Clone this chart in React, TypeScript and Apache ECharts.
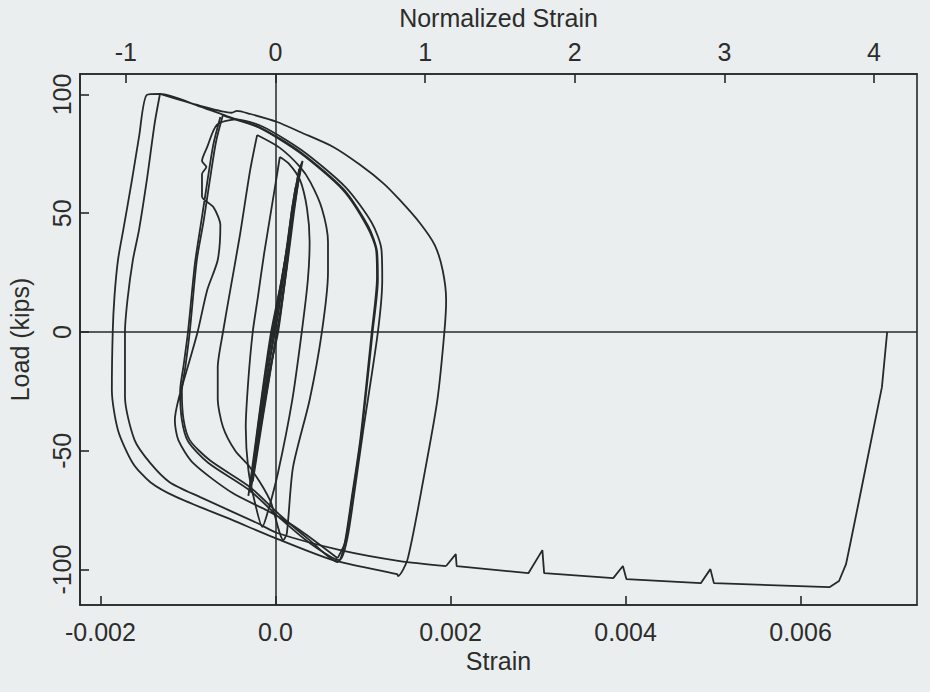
import React, { useEffect, useRef } from 'react';
import * as echarts from 'echarts';

// ---- axis extents ----
const STRAIN_MIN = -0.002234;
const STRAIN_MAX = 0.007331;
const LOAD_MIN = -114.9;
const LOAD_MAX = 108.6;
const YIELD_STRAIN = 0.00171; // normalizing strain for the top axis

// ---- tick values / labels ----
const strainTicks = [-0.002, 0, 0.002, 0.004, 0.006];
const strainTickLabels = ['-0.002', '0.0', '0.002', '0.004', '0.006'];
const normTicks = [-1, 0, 1, 2, 3, 4];
const normTickLabels = ['-1', '0', '1', '2', '3', '4'];
const loadTicks = [-100, -50, 0, 50, 100];
const loadTickLabels = ['-100', '-50', '0', '50', '100'];

// ---- load–strain history, [strain, load (kips)] ----
const elasticA = [
  [-0.00029, -67.5], [-0.00018, -40], [-0.00006, -15], [0.00003, 0], [0.00012, 25], [0.0002, 50],
  [0.00025, 64], [0.00027, 68.5], [0.00024, 62], [0.00016, 42], [0.00006, 20], [-0.00004, 0],
  [-0.00013, -22], [-0.00022, -48], [-0.00029, -67.5],
];
const elasticB = [
  [-0.00031, -69], [-0.0002, -42], [-0.00008, -15], [0.00002, 5], [0.00011, 28], [0.00019, 52],
  [0.00027, 68], [0.00031, 72], [0.00026, 63], [0.00018, 45], [0.00007, 22], [-0.00005, 0],
  [-0.00015, -25], [-0.00024, -50], [-0.00031, -69],
];
const elasticC = [
  [-0.00026, -63], [-0.00014, -35], [-0.00002, -8], [0.00006, 10], [0.00014, 32], [0.00021, 55],
  [0.00023, 61], [0.00019, 52], [0.0001, 28], [0.00001, 6], [-0.00008, -15], [-0.00018, -40],
  [-0.00026, -63],
];
const elasticD = [
  [-0.00028, -66], [-0.00016, -38], [-0.00004, -12], [0.00004, 4], [0.00013, 27], [0.00021, 50],
  [0.00026, 63], [0.00029, 70], [0.00025, 62], [0.00017, 43], [0.00005, 16], [-0.00003, 0],
  [-0.00014, -24], [-0.00023, -49], [-0.00028, -66],
];
const cycleC = [
  [0.00005, 73.7], [-0.00001, 60], [-0.00013, 33], [-0.0002, 15], [-0.00026, 0], [-0.00031, -20],
  [-0.00034, -40], [-0.00031, -58], [-0.00024, -71], [-0.00015, -82], [-0.00009, -76],
  [0.00003, -59], [0.00019, -29], [0.0003, 0], [0.00037, 22], [0.00039, 38], [0.00036, 52],
  [0.00028, 64], [0.00015, 71], [0.00005, 73.7],
];
const cycleD = [
  [-0.00021, 82.9], [-0.00029, 68], [-0.00041, 40], [-0.00052, 17], [-0.0006, 0], [-0.00066, -15],
  [-0.00066, -28], [-0.0006, -40], [-0.00046, -50], [-0.00029, -57], [-0.00006, -71],
  [0.00009, -87.6], [0.00013, -84.6], [0.0002, -57], [0.00039, -28.6], [0.00053, 0], [0.0006, 25],
  [0.0006, 38], [0.00053, 52], [0.0004, 63], [0.00028, 69.5], [0.00005, 77.5], [-0.00021, 82.9],
];
const cycleE1 = [
  [-0.0006, 91.4], [-0.00068, 80], [-0.00075, 64], [-0.00082, 47], [-0.0009, 30], [-0.00098, 0],
  [-0.00103, -14.7], [-0.00107, -25], [-0.00105, -37], [-0.00098, -45.5], [-0.00075, -54],
  [-0.00029, -65.3], [0.00005, -77], [0.00039, -87.6], [0.00071, -96.8], [0.00079, -89],
  [0.00087, -70], [0.00097, -45], [0.0011, 0], [0.00116, 23], [0.00115, 34.5], [0.00105, 44.2],
  [0.00077, 59.8], [0.00028, 75.4], [-0.00018, 85.9], [-0.00055, 90.5], [-0.0006, 91.4],
];
const cycleE2 = [
  [-0.00063, 90.5], [-0.00071, 79], [-0.00078, 63], [-0.00085, 46], [-0.00092, 29], [-0.001, 0],
  [-0.00105, -14], [-0.00109, -25], [-0.00107, -37], [-0.001, -46], [-0.00077, -55],
  [-0.0003, -66.5], [0.00004, -78], [0.00038, -88.5], [0.00073, -96], [0.00082, -87],
  [0.0009, -68], [0.001, -42], [0.00117, 0], [0.00122, 22], [0.00121, 35], [0.0011, 46],
  [0.0008, 61], [0.0003, 76.5], [-0.00015, 86.5], [-0.00045, 89.5], [-0.00067, 87.2],
  [-0.00078, 77.9], [-0.00084, 72], [-0.00079, 69.5], [-0.00084, 66.5], [-0.00084, 57],
  [-0.00071, 52.6], [-0.00063, 45], [-0.00066, 30.3], [-0.00078, 17.7], [-0.00089, 0],
  [-0.00098, -11.8], [-0.00111, -28.6], [-0.00115, -37.1], [-0.00111, -45.5], [-0.00094, -55.2],
  [-0.00049, -67.8], [-0.00006, -75.8], [0.00028, -83.4], [0.00071, -95.2],
];
const cycleA = [
  [0.00071, -95.2], [0.0008, -88], [0.00088, -69], [0.00098, -44], [0.00111, 0], [0.00117, 22],
  [0.00116, 34], [0.00106, 44.5], [0.00078, 60], [0.00029, 75.6], [-0.00017, 86], [-0.00055, 90.8],
  [-0.00086, 94.9], [-0.00132, 100.2], [-0.00147, 99.8], [-0.00156, 82], [-0.00164, 64],
  [-0.00174, 42.9], [-0.0018, 30.3], [-0.00184, 15], [-0.00186, 0], [-0.00187, -24.4],
  [-0.0018, -41.3], [-0.00163, -55.2], [-0.00143, -63.2], [-0.00113, -69.5], [-0.00049, -79.2],
  [-0.00003, -86.3], [0.00066, -96], [0.00139, -101.9], [0.0014, -102.7], [0.00151, -95.6],
  [0.00171, -58.1], [0.00185, -28.6], [0.00193, 0], [0.00195, 13.5], [0.00191, 26.1],
  [0.00182, 36.6], [0.00165, 45.9], [0.00142, 55.6], [0.00123, 62.7], [0.00097, 70.3],
  [0.00066, 77.9], [0.00028, 84.2], [0.00002, 88.4], [-0.00029, 91.8], [-0.00044, 93.1],
  [-0.0005, 92.3], [-0.00086, 95.2], [-0.00132, 100.2],
];
const finalDescent = [
  [-0.00132, 100.2], [-0.00138, 88], [-0.00147, 64], [-0.00156, 42.9], [-0.00163, 30.3],
  [-0.00169, 14], [-0.00172, 0], [-0.00172, -27.4], [-0.00161, -45.5], [-0.00143, -55.2],
  [-0.00121, -63.2], [-0.00086, -69.5], [-0.00021, -80.4], [0.00002, -84.6], [0.00074, -91.8],
  [0.00142, -96.4], [0.00195, -98.5],
];
const finalRun = [
  [0.00195, -98.5], [0.00206, -93.5], [0.00207, -98.5], [0.00289, -101.5], [0.00305, -91.8],
  [0.00307, -101.5], [0.00386, -103.6], [0.00397, -98.5], [0.00401, -104], [0.00486, -105.7],
  [0.00497, -99.8], [0.00501, -105.7], [0.00633, -107.4], [0.00644, -104.8], [0.00652, -97.7],
  [0.00657, -88.8], [0.00667, -70.7], [0.00693, -23.2], [0.00699, 0],
];

const curvedPaths = [
  elasticA, elasticB, elasticC, elasticD, cycleC, cycleD, cycleE1, cycleE2, cycleA, finalDescent,
];

const INK = '#262929';
const TEXT = '#2b2d2d';
const BG = '#ebeeee';
const FONT = '"Liberation Sans", Arial, Helvetica, sans-serif';
const TICK_FONT = 25;
const NAME_FONT = 25;

const pick = (ticks: number[], labels: string[]) => (v: number) => {
  const i = ticks.findIndex((t) => Math.abs(t - v) < 1e-9);
  return i >= 0 ? labels[i] : '';
};

export default function App() {
  const ref = useRef<HTMLDivElement>(null);

  useEffect(() => {
    document.body.style.margin = '0';
    document.body.style.background = BG;
    if (!ref.current) return;
    const chart = echarts.init(ref.current, null, { renderer: 'svg' });

    const lineStyle = { color: INK, width: 1.8 };
    const axisLineStyle = { color: INK, width: 1.6 };

    const series: any[] = curvedPaths.map((d) => ({
      type: 'line',
      data: d,
      xAxisIndex: 0,
      yAxisIndex: 0,
      showSymbol: false,
      smooth: 0.25,
      silent: true,
      lineStyle,
    }));
    series.push({
      type: 'line',
      data: finalRun,
      xAxisIndex: 0,
      yAxisIndex: 0,
      showSymbol: false,
      smooth: false,
      silent: true,
      lineStyle,
      markLine: {
        silent: true,
        symbol: ['none', 'none'],
        label: { show: false },
        lineStyle: { type: 'solid', color: INK, width: 1.5 },
        data: [{ xAxis: 0 }, { yAxis: 0 }],
      },
    });

    chart.setOption({
      animation: false,
      backgroundColor: BG,
      textStyle: { fontFamily: FONT },
      grid: {
        left: 80,
        right: 13,
        top: 74,
        bottom: 87,
        show: true,
        borderColor: INK,
        borderWidth: 1.6,
        containLabel: false,
        outerBoundsMode: 'none',
      },
      xAxis: [
        {
          type: 'value',
          position: 'bottom',
          min: STRAIN_MIN,
          max: STRAIN_MAX,
          name: 'Strain',
          nameLocation: 'middle',
          nameGap: 42,
          nameTextStyle: { color: TEXT, fontSize: NAME_FONT, fontFamily: FONT },
          axisLine: { show: true, onZero: false, lineStyle: axisLineStyle },
          axisTick: { show: true, inside: true, length: 9, customValues: strainTicks, lineStyle: axisLineStyle },
          axisLabel: {
            customValues: strainTicks,
            formatter: pick(strainTicks, strainTickLabels),
            color: TEXT,
            fontSize: TICK_FONT,
            fontFamily: FONT,
            margin: 14,
          },
          splitLine: { show: false },
        },
        {
          type: 'value',
          position: 'top',
          min: STRAIN_MIN / YIELD_STRAIN,
          max: STRAIN_MAX / YIELD_STRAIN,
          name: 'Normalized Strain',
          nameLocation: 'middle',
          nameGap: 44,
          nameTextStyle: { color: TEXT, fontSize: NAME_FONT, fontFamily: FONT },
          axisLine: { show: true, onZero: false, lineStyle: axisLineStyle },
          axisTick: { show: true, inside: true, length: 9, customValues: normTicks, lineStyle: axisLineStyle },
          axisLabel: {
            customValues: normTicks,
            formatter: pick(normTicks, normTickLabels),
            color: TEXT,
            fontSize: TICK_FONT,
            fontFamily: FONT,
            margin: 10,
          },
          splitLine: { show: false },
        },
      ],
      yAxis: {
        type: 'value',
        min: LOAD_MIN,
        max: LOAD_MAX,
        name: 'Load (kips)',
        nameLocation: 'middle',
        nameRotate: 90,
        nameGap: 48,
        nameTextStyle: { color: TEXT, fontSize: NAME_FONT, fontFamily: FONT },
        axisLine: { show: true, onZero: false, lineStyle: axisLineStyle },
        axisTick: { show: true, inside: true, length: 9, customValues: loadTicks, lineStyle: axisLineStyle },
        axisLabel: {
          customValues: loadTicks,
          formatter: pick(loadTicks, loadTickLabels),
          rotate: 90,
          color: TEXT,
          fontSize: TICK_FONT,
          fontFamily: FONT,
          margin: 6,
        },
        splitLine: { show: false },
      },
      series,
    });

    return () => chart.dispose();
  }, []);

  return <div ref={ref} style={{ width: 930, height: 692 }} />;
}
